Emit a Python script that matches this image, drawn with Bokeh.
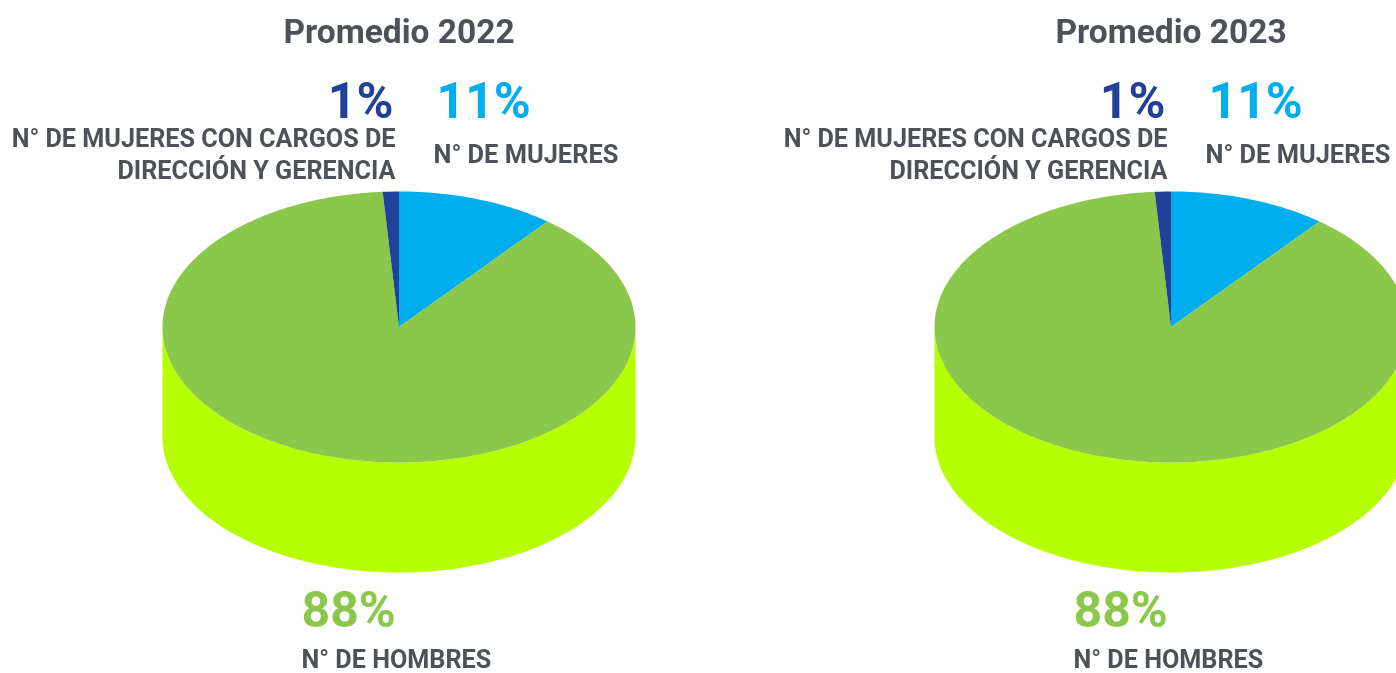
import math
from bokeh.plotting import figure
from bokeh.models import Range1d
from bokeh.layouts import row
from bokeh.embed import file_html
from bokeh.resources import INLINE
from bokeh.core.properties import value

titles = ["Promedio 2022", "Promedio 2023"]
shares = [10.8, 88.1, 1.1]
share_labels = ["11%", "88%", "1%"]
name_women = "N° DE MUJERES"
name_men = "N° DE HOMBRES"
name_managers = ["N° DE MUJERES CON CARGOS DE", "DIRECCIÓN Y GERENCIA"]
colors = ["#00ADEE", "#8BC74A", "#21409A"]
side_color = "#B5FF00"
ink = "#4D5259"
FONT = "Roboto"

RX, RY, DEPTH = 236.5, 135.5, 110
CX, CY = 398.5, 326.5
PANEL_W = 772


def panel(title, width):
    # one data unit = one pixel, y runs down the page
    p = figure(width=width, height=673, output_backend="svg", toolbar_location=None,
               x_range=Range1d(0, width), y_range=Range1d(673, 0),
               min_border=0, outline_line_color=None)
    p.axis.visible = False
    p.grid.visible = False
    p.background_fill_color = None
    p.border_fill_color = None

    # side wall: lower half of the ellipse, extruded
    n = 180
    lower = [math.pi / 2 + math.pi * i / n for i in range(n + 1)]
    xs = [CX + RX * math.sin(a) for a in lower]
    top = [CY - RY * math.cos(a) for a in lower]
    bot = [t + DEPTH for t in top]
    p.patch(xs + xs[::-1], bot + top[::-1], fill_color=side_color, line_color=None)

    # top face
    total = sum(shares)
    start = 0.0
    for s, c in zip(shares, colors):
        a0 = 2 * math.pi * start / total
        a1 = 2 * math.pi * (start + s) / total
        steps = max(3, int(s * 3))
        ang = [a0 + (a1 - a0) * i / steps for i in range(steps + 1)]
        px = [CX] + [CX + RX * math.sin(a) for a in ang]
        py = [CY] + [CY - RY * math.cos(a) for a in ang]
        p.patch(px, py, fill_color=c, line_color=None)
        start += s

    def txt(x, y, t, size, color, align="left"):
        # y is the wanted baseline; the svg backend draws "alphabetic" about 0.36em lower
        p.text([x], [y - 0.36 * size], text=[t], text_font=value(FONT), text_font_style="bold",
               text_font_size=f"{size}px", text_color=color, text_align=align,
               text_baseline="alphabetic")

    txt(398.5, 43, title, 33.5, ink, "center")
    txt(393, 118, share_labels[2], 50, colors[2], "right")
    txt(436, 118, share_labels[0], 50, colors[0], "left")
    txt(395, 147, name_managers[0], 25.2, ink, "right")
    txt(395, 179, name_managers[1], 25.2, ink, "right")
    txt(433, 163, name_women, 25.4, ink, "left")
    txt(301, 627, share_labels[1], 50, colors[1], "left")
    txt(301, 668, name_men, 25.2, ink, "left")
    return p


a = panel(titles[0], PANEL_W)
b = panel(titles[1], 1396 - PANEL_W)
layout = row(a, b, spacing=0, styles={"position": "fixed", "left": "0", "top": "0"})
open("out.html", "w").write(file_html(layout, INLINE))
